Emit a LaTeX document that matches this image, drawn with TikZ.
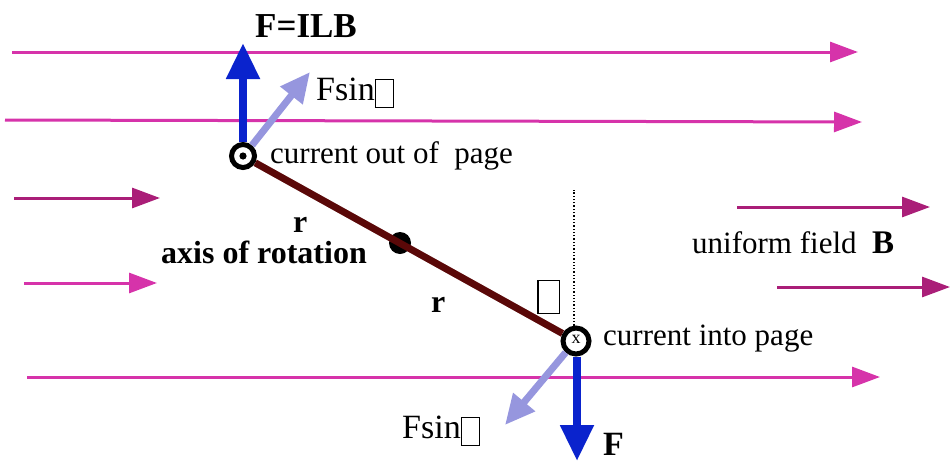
\documentclass[tikz,border=0pt]{standalone}
\usepackage{fontspec}
\setmainfont{Liberation Serif}
\usetikzlibrary{arrows.meta}
\definecolor{fieldA}{RGB}{214,51,170}
\definecolor{fieldB}{RGB}{170,30,120}
\definecolor{forceblue}{RGB}{10,35,205}
\definecolor{complight}{RGB}{150,150,222}
\definecolor{rodcol}{RGB}{90,8,8}
\setlength\fboxsep{0pt}
\setlength\fboxrule{1.3pt}
\newcommand\nog{\fbox{\rule[-0.2em]{0pt}{0.79em}\hspace{0.5em}}}
\tikzset{
  fieldlong/.style={draw=fieldA, line width=3pt, -{Triangle[length=28pt,width=20pt]}},
  fieldshort/.style={draw=fieldB, line width=3pt, -{Triangle[length=28pt,width=20pt]}},
  force/.style={draw=forceblue, line width=8pt, -{Triangle[length=36pt,width=32pt]}},
  comp/.style={draw=complight, line width=7pt, -{Triangle[length=30pt,width=27pt]}},
  rod/.style={draw=rodcol, line width=7pt},
  ring/.style={circle, draw=black, fill=white, inner sep=0pt},
  txt/.style={inner sep=0pt, anchor=base west, font=\fontsize{31}{31}\selectfont},
  btxt/.style={inner sep=0pt, anchor=base west, font=\fontsize{32}{32}\selectfont\bfseries},
}
\begin{document}
\begin{tikzpicture}[x=1pt,y=-1pt]
\useasboundingbox (0,0) rectangle (950,461);
% field lines
\coordinate (f1s) at (12,52);   \coordinate (f1e) at (858,52);
\coordinate (f2s) at (5,120);   \coordinate (f2e) at (862,122);
\coordinate (f3s) at (14,198);  \coordinate (f3e) at (160,198);
\coordinate (f4s) at (24,283);  \coordinate (f4e) at (157,283);
\coordinate (f5s) at (27,377);  \coordinate (f5e) at (880,377);
\coordinate (f6s) at (737,207); \coordinate (f6e) at (930,207);
\coordinate (f7s) at (777,287); \coordinate (f7e) at (950,287);
\draw[fieldlong] (f1s) -- (f1e);
\draw[fieldlong] (f2s) -- (f2e);
\draw[fieldshort] (f3s) -- (f3e);
\draw[fieldlong] (f4s) -- (f4e);
\draw[fieldlong] (f5s) -- (f5e);
\draw[fieldshort] (f6s) -- (f6e);
\draw[fieldshort] (f7s) -- (f7e);
% wires and pivot
\node[ring, line width=5pt, minimum size=23pt] (out) at (243,156) {};
\node[ring, line width=5pt, minimum size=26pt] (in) at (576,341) {};
\node[circle, fill=black, minimum size=22pt, inner sep=0pt] (pivot) at (400,243) {};
\coordinate (dtop) at (574,190);
\draw[dotted, line width=1.3pt] (in.north -| dtop) -- (dtop);
\draw[rod] (out) -- (in);
\fill (out.center) circle (3.6);
\node[inner sep=0pt, font=\fontsize{18}{18}\selectfont] at ([yshift=2pt]in.center) {x};
% forces
\coordinate (Ftop) at (243,43);
\coordinate (Fbot) at (577,461);
\coordinate (ctop) at (310,72);
\coordinate (cbot) at (505,425);
\draw[force] (out.north) -- (Ftop);
\draw[force] (in.south -| Fbot) -- (Fbot);
\draw[comp] (out.50) -- (ctop);
\draw[comp] (in.228) -- (cbot);
% labels
\node[btxt, font=\fontsize{35}{35}\selectfont\bfseries] (filb) at (255,37) {F=ILB};
\node[txt, font=\fontsize{34}{34}\selectfont] (fs1) at (316,100) {Fsin\nog};
\node[txt] (lout) at (270,163) {current out of~~page};
\node[btxt] (r1) at (293,232) {r};
\node[btxt] (axis) at (161,263) {axis of rotation};
\node[btxt] (r2) at (431,312) {r};
\node[txt, font=\fontsize{40}{40}\selectfont] (th) at (537,305) {\nog};
\node[txt] (lin) at (603,345) {current into page};
\node[txt] (lfield) at (692,253) {uniform field~~\textbf{\fontsize{33}{33}\selectfont B}};
\node[txt, font=\fontsize{34}{34}\selectfont] (fs2) at (402,438) {Fsin\nog};
\node[btxt, font=\fontsize{34}{34}\selectfont\bfseries] (fl) at (603,455) {F};
\end{tikzpicture}
\end{document}
